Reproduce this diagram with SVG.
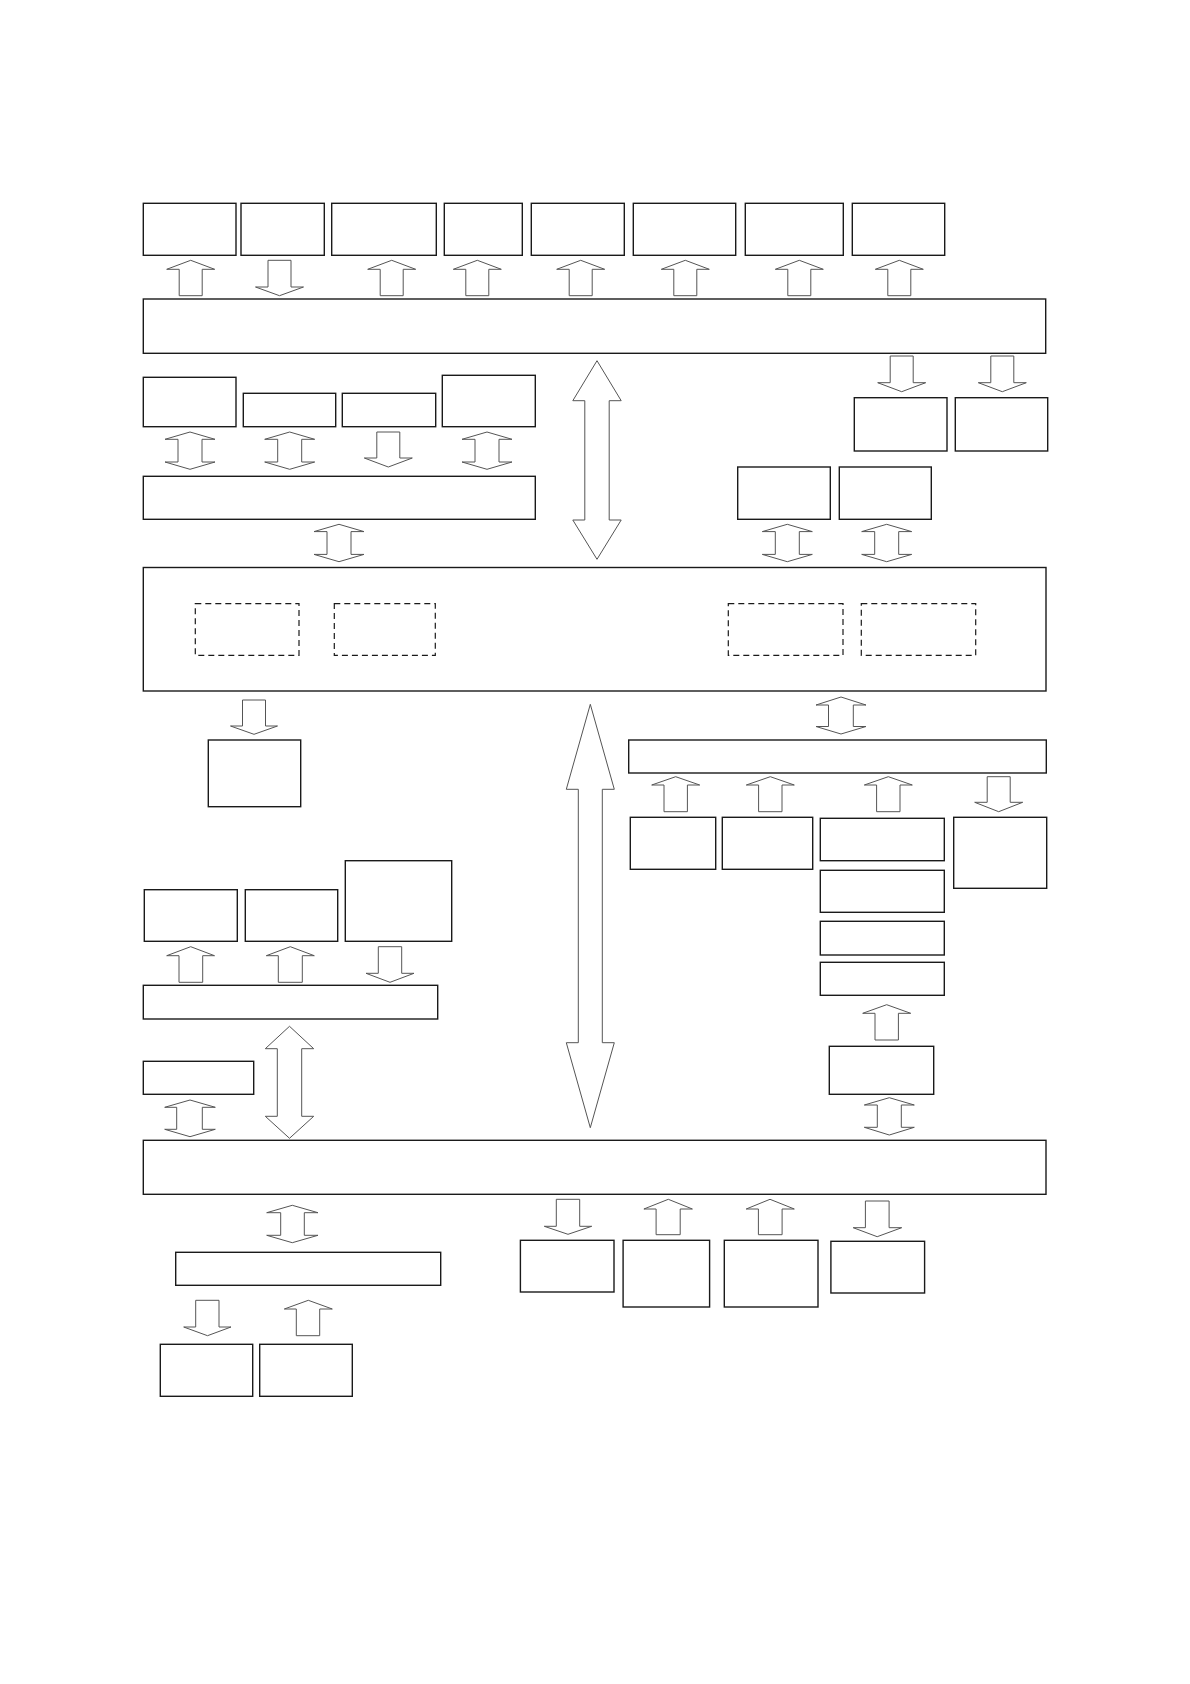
<svg xmlns="http://www.w3.org/2000/svg" width="1190" height="1684" viewBox="0 0 1190 1684">
<style>
.b{fill:#fff;stroke:#1a1a1a;stroke-width:1.4}
.d{fill:none;stroke:#1a1a1a;stroke-width:1.2;stroke-dasharray:6,4}
.a{fill:#fff;stroke:#555;stroke-width:1}
</style>
<rect width="1190" height="1684" fill="#fff"/>
<g id="top-row">
<rect id="t1" class="b" x="143.3" y="203.3" width="92.7" height="52"/>
<rect id="t2" class="b" x="241" y="203.3" width="83.3" height="52"/>
<rect id="t3" class="b" x="331.7" y="203.3" width="104.6" height="52"/>
<rect id="t4" class="b" x="444.3" y="203.3" width="78" height="52"/>
<rect id="t5" class="b" x="531.3" y="203.3" width="93" height="52"/>
<rect id="t6" class="b" x="633.3" y="203.3" width="102.4" height="52"/>
<rect id="t7" class="b" x="745.3" y="203.3" width="98" height="52"/>
<rect id="t8" class="b" x="852.3" y="203.3" width="92.4" height="52"/>
</g>
<g id="bar1"><rect class="b" x="143.3" y="299" width="902.4" height="54.3"/></g>
<g id="r1"><rect class="b" x="854.3" y="397.7" width="92.7" height="53.3"/></g>
<g id="r2"><rect class="b" x="955.3" y="397.7" width="92.4" height="53.3"/></g>
<g id="row2">
<rect id="l2a" class="b" x="143.3" y="377.3" width="92.7" height="49.4"/>
<rect id="l2b" class="b" x="243.3" y="393.3" width="92.4" height="33.4"/>
<rect id="l2c" class="b" x="342.3" y="393.3" width="93.4" height="33.4"/>
<rect id="l2d" class="b" x="442.3" y="375.3" width="93" height="51.4"/>
</g>
<g id="bar2"><rect class="b" x="143.3" y="476.3" width="392" height="43"/></g>
<g id="r3"><rect class="b" x="737.7" y="467" width="92.6" height="52.3"/></g>
<g id="r4"><rect class="b" x="839.3" y="467" width="92" height="52.3"/></g>
<g id="middle-bar">
<rect class="b" x="143.3" y="567.5" width="902.7" height="123.5"/>
<rect id="dash1" class="d" x="195.3" y="603.7" width="103.7" height="51.6"/>
<rect id="dash2" class="d" x="334.3" y="603.7" width="101" height="51.6"/>
<rect id="dash3" class="d" x="728.3" y="603.7" width="114.7" height="51.6"/>
<rect id="dash4" class="d" x="861.3" y="603.7" width="114.4" height="51.6"/>
</g>
<g id="box-under-left"><rect class="b" x="208.3" y="740" width="92.4" height="66.7"/></g>
<g id="right-bar"><rect class="b" x="628.7" y="740" width="417.6" height="33"/></g>
<g id="right-boxes">
<rect id="m1" class="b" x="630.3" y="817.3" width="85.4" height="52"/>
<rect id="m2" class="b" x="722.3" y="817.3" width="90.4" height="52"/>
<rect id="m3a" class="b" x="820.3" y="818.3" width="124" height="42.4"/>
<rect id="m3b" class="b" x="820.3" y="870.3" width="124" height="42"/>
<rect id="m3c" class="b" x="820.3" y="921.3" width="124" height="33.7"/>
<rect id="m3d" class="b" x="820.3" y="962.3" width="124" height="33"/>
<rect id="m4" class="b" x="953.7" y="817.3" width="93" height="71"/>
<rect id="m5" class="b" x="829.3" y="1046.3" width="104.4" height="48"/>
</g>
<g id="left-boxes">
<rect id="lm1" class="b" x="144.3" y="889.7" width="93" height="51.6"/>
<rect id="lm2" class="b" x="245.3" y="889.7" width="92.4" height="51.6"/>
<rect id="lm3" class="b" x="345.3" y="860.7" width="106.4" height="80.6"/>
<rect id="barL" class="b" x="143.3" y="985.3" width="294.4" height="33.7"/>
<rect id="smallL" class="b" x="143.3" y="1061.3" width="110.4" height="33"/>
</g>
<g id="bottom-bar"><rect class="b" x="143.3" y="1140.3" width="902.7" height="54"/></g>
<g id="bottom-left">
<rect id="barB" class="b" x="175.7" y="1252.3" width="265" height="33"/>
<rect id="bl1" class="b" x="160.3" y="1344.3" width="92.4" height="52"/>
<rect id="bl2" class="b" x="259.7" y="1344.3" width="92.6" height="52"/>
</g>
<g id="bottom-right">
<rect id="br1" class="b" x="520.4" y="1240.3" width="93.6" height="51.7"/>
<rect id="br2" class="b" x="623.1" y="1240.3" width="86.5" height="66.7"/>
<rect id="br3" class="b" x="724.3" y="1240.3" width="93.7" height="66.7"/>
<rect id="br4" class="b" x="830.9" y="1241.3" width="93.7" height="51.7"/>
</g>
<g id="connectors">
<polygon class="a" points="190.7,260.3 214.7,269.3 202.2,269.3 202.2,295.7 179.2,295.7 179.2,269.3 166.7,269.3"/>
<polygon class="a" points="268,260.3 291,260.3 291,287 303.5,287 279.5,295.7 255.5,287 268,287"/>
<polygon class="a" points="391.7,260.3 415.7,269.3 403.2,269.3 403.2,295.7 380.2,295.7 380.2,269.3 367.7,269.3"/>
<polygon class="a" points="477.3,260.3 501.3,269.3 488.8,269.3 488.8,295.7 465.8,295.7 465.8,269.3 453.3,269.3"/>
<polygon class="a" points="580.7,260.3 604.7,269.3 592.2,269.3 592.2,295.7 569.2,295.7 569.2,269.3 556.7,269.3"/>
<polygon class="a" points="685.3,260.3 709.3,269.3 696.8,269.3 696.8,295.7 673.8,295.7 673.8,269.3 661.3,269.3"/>
<polygon class="a" points="799.3,260.3 823.3,269.3 810.8,269.3 810.8,295.7 787.8,295.7 787.8,269.3 775.3,269.3"/>
<polygon class="a" points="899.3,260.3 923.3,269.3 910.8,269.3 910.8,295.7 887.8,295.7 887.8,269.3 875.3,269.3"/>
<polygon class="a" points="890.2,356 913.2,356 913.2,382.7 925.7,382.7 901.7,391.7 877.7,382.7 890.2,382.7"/>
<polygon class="a" points="990.8,356 1013.8,356 1013.8,382.7 1026.3,382.7 1002.3,391.7 978.3,382.7 990.8,382.7"/>
<polygon class="a" points="190,432 215,439.3 202,439.3 202,462 215,462 190,469.3 165,462 178,462 178,439.3 165,439.3"/>
<polygon class="a" points="289.7,432 314.7,439.3 301.7,439.3 301.7,462 314.7,462 289.7,469.3 264.7,462 277.7,462 277.7,439.3 264.7,439.3"/>
<polygon class="a" points="376.8,432 399.8,432 399.8,458 412.3,458 388.3,467 364.3,458 376.8,458"/>
<polygon class="a" points="487,432 512,439.3 499,439.3 499,462 512,462 487,469.3 462,462 475,462 475,439.3 462,439.3"/>
<polygon class="a" points="339,524.3 364,531.6 351,531.6 351,554.4 364,554.4 339,561.7 314,554.4 327,554.4 327,531.6 314,531.6"/>
<polygon class="a" points="787.3,524.3 812.3,531.6 799.3,531.6 799.3,554.4 812.3,554.4 787.3,561.7 762.3,554.4 775.3,554.4 775.3,531.6 762.3,531.6"/>
<polygon class="a" points="886.7,524.3 911.7,531.6 898.7,531.6 898.7,554.4 911.7,554.4 886.7,561.7 861.7,554.4 874.7,554.4 874.7,531.6 861.7,531.6"/>
<polygon class="a" points="597,360.7 621.2,400.7 609.2,400.7 609.2,520 621.2,520 597,559.3 572.8,520 584.8,520 584.8,400.7 572.8,400.7"/>
<polygon class="a" points="242.5,700 265.5,700 265.5,726 277.5,726 254,734.3 230.5,726 242.5,726"/>
<polygon class="a" points="590.3,704.3 614.3,789.3 602.3,789.3 602.3,1042.7 614.3,1042.7 590.3,1127.7 566.3,1042.7 578.3,1042.7 578.3,789.3 566.3,789.3"/>
<polygon class="a" points="841,697 866,705 853.3,705 853.3,726.5 866,726.5 841,734 816,726.5 828.5,726.5 828.5,705 816,705"/>
<polygon class="a" points="675.7,776.7 699.7,785 687.4,785 687.4,811.7 664,811.7 664,785 651.7,785"/>
<polygon class="a" points="770.3,776.7 794.3,785 782,785 782,811.7 758.6,811.7 758.6,785 746.3,785"/>
<polygon class="a" points="888.3,776.7 912.3,785 900,785 900,811.7 876.6,811.7 876.6,785 864.3,785"/>
<polygon class="a" points="987.2,776.7 1010.2,776.7 1010.2,802.3 1022.7,802.3 998.7,811.7 974.7,802.3 987.2,802.3"/>
<polygon class="a" points="886.7,1004.7 910.7,1013.3 898.4,1013.3 898.4,1040 875,1040 875,1013.3 862.7,1013.3"/>
<polygon class="a" points="889.3,1097.7 914.3,1105 901.3,1105 901.3,1127.3 914.3,1127.3 889.3,1135 864.3,1127.3 877.3,1127.3 877.3,1105 864.3,1105"/>
<polygon class="a" points="190.7,946.7 214.5,955.7 202.7,955.7 202.7,982.3 179,982.3 179,955.7 166.7,955.7"/>
<polygon class="a" points="290.3,946.7 314.3,955.7 302.3,955.7 302.3,982.3 278.3,982.3 278.3,955.7 266.3,955.7"/>
<polygon class="a" points="378.3,946.7 401.7,946.7 401.7,973.3 414,973.3 390,982.3 366,973.3 378.3,973.3"/>
<polygon class="a" points="289.5,1026.3 313.7,1048.7 301.7,1048.7 301.7,1116.3 313.7,1116.3 289.5,1138.3 265.3,1116.3 277.3,1116.3 277.3,1048.7 265.3,1048.7"/>
<polygon class="a" points="190,1100 215.3,1107.3 202.3,1107.3 202.3,1129.3 215.3,1129.3 190,1136.7 164.7,1129.3 176.7,1129.3 176.7,1107.3 164.7,1107.3"/>
<polygon class="a" points="292.3,1205.3 318,1212.7 304.3,1212.7 304.3,1235.3 318,1235.3 292.3,1242.7 266.7,1235.3 280.7,1235.3 280.7,1212.7 266.7,1212.7"/>
<polygon class="a" points="195.7,1300.3 219,1300.3 219,1327 231,1327 207.5,1335.7 183.7,1327 195.7,1327"/>
<polygon class="a" points="308.3,1300.3 332.3,1309 319.7,1309 319.7,1335.7 296.3,1335.7 296.3,1309 284.3,1309"/>
<polygon class="a" points="556.3,1199.3 579.7,1199.3 579.7,1226.3 591.7,1226.3 568,1234.3 544.3,1226.3 556.3,1226.3"/>
<polygon class="a" points="668.3,1199.3 692.4,1209 680.2,1209 680.2,1234.7 656.1,1234.7 656.1,1209 643.9,1209"/>
<polygon class="a" points="770,1199.3 794.3,1209 782.1,1209 782.1,1234.7 758.4,1234.7 758.4,1209 746.2,1209"/>
<polygon class="a" points="865.4,1201 889.1,1201 889.1,1227.7 901.7,1227.7 877.2,1236.7 853.2,1227.7 865.4,1227.7"/>
</g>
</svg>
